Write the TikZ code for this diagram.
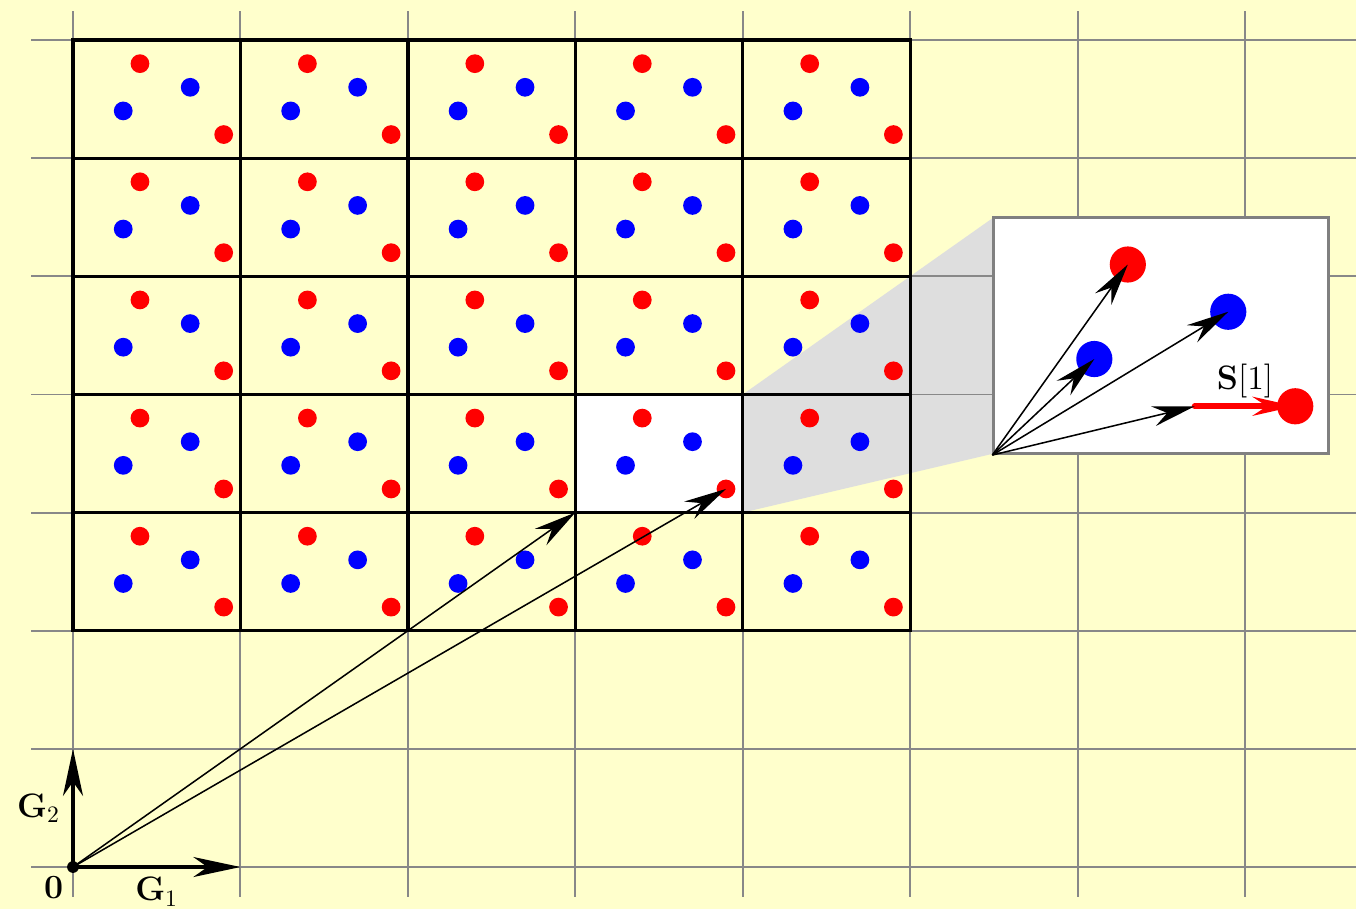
\documentclass[tikz,border=0pt]{standalone}
\usepackage{amssymb}
\usepackage{tikz}
\usetikzlibrary{arrows.meta, calc}
\definecolor{paper}{RGB}{255, 255, 204}
\definecolor{gridgray}{RGB}{136, 136, 136}
\definecolor{zoomshade}{RGB}{222, 222, 222}
\definecolor{framegray}{RGB}{128, 128, 128}

\begin{document}
\begin{tikzpicture}[x=2.5cm, y=1.764cm, font=\Large,
        vec/.style={-{Stealth[length=18pt, width=8.5pt, inset=6pt]}, line width=0.65pt},
        basisvec/.style={-{Stealth[length=20pt, width=8.5pt, inset=6pt]}, line width=1.4pt},
        svec/.style={-{Stealth[length=18pt, width=8pt, inset=6pt]}, red, line width=2.6pt, line cap=round},
        dot/.style={circle, inner sep=0pt, minimum size=0.28cm},
        bigdot/.style={circle, inner sep=0pt, minimum size=0.54cm}]
        \fill[paper] (-0.436,-0.3555) rectangle (7.663,7.339);
        \useasboundingbox (-0.436,-0.3555) rectangle (7.663,7.339);
        \fill[zoomshade] (4,4) -- (5.5,5.5) -- (5.5,3.5) -- (4,3) -- cycle;
        \foreach \k in {0,...,7}
        {
            \draw[gridgray, line width=0.8pt] (\k,-0.25) -- (\k,7.25);
            \draw[gridgray, line width=0.8pt] (-0.25,\k) -- (7.75,\k);
        }
        \fill[white] (3,3) rectangle (4,4);
        \foreach \i in {0,...,4}
            \foreach \j in {2,...,6}
            {
                \draw[line width=1.4pt] (\i,\j) rectangle ++(1,1);
                \node[dot, fill=red] (ra-\i-\j) at (\i+0.4,\j+0.8) {};
                \node[dot, fill=blue] (ba-\i-\j) at (\i+0.7,\j+0.6) {};
                \node[dot, fill=blue] (bb-\i-\j) at (\i+0.3,\j+0.4) {};
                \node[dot, fill=red] (rb-\i-\j) at (\i+0.9,\j+0.2) {};
            }
        \node[circle, fill=black, inner sep=0pt, minimum size=5pt] (O) at (0,0) {};
        \coordinate (G1) at (1,0);
        \coordinate (G2) at (0,1);
        \coordinate (c33) at (3,3);
        \draw[vec] (O.center) -- (c33);
        \draw[vec] (O.center) -- (rb-3-3.center);
        \draw[basisvec] (O.center) -- (G1);
        \draw[basisvec] (O.center) -- (G2);
        \node[below left, inner sep=4pt] (lblO) at (O.center) {$\mathbf{0}$};
        \node[below=1pt] (lblG1) at ($(O)!0.5!(G1)$) {$\mathbf{G}_1$};
        \node[left=2pt] (lblG2) at ($(O)!0.5!(G2)$) {$\mathbf{G}_2$};
        \node[draw=framegray, fill=white, line width=1.3pt, minimum width=5cm, minimum height=3.528cm, inner sep=0pt] (inset) at (6.5,4.5) {};
        \coordinate (zs) at (6.7,3.9);
        \coordinate (zt) at (7.3,3.9);
        \draw[svec] (zs) -- (zt);
        \node[bigdot, fill=red] (zr1) at (6.3,5.1) {};
        \node[bigdot, fill=blue] (zb1) at (6.9,4.7) {};
        \node[bigdot, fill=blue] (zb2) at (6.1,4.3) {};
        \node[bigdot, fill=red] (zr2) at (zt) {};
        \foreach \p in {zr1, zb1, zb2}
            \draw[vec] (inset.south west) -- (\p.center);
        \draw[vec] (inset.south west) -- (zs);
        \node[above] (lblS) at ($(zs)!0.5!(zt)$) {$\mathbf{S}[1]$};
    \end{tikzpicture}
\end{document}
